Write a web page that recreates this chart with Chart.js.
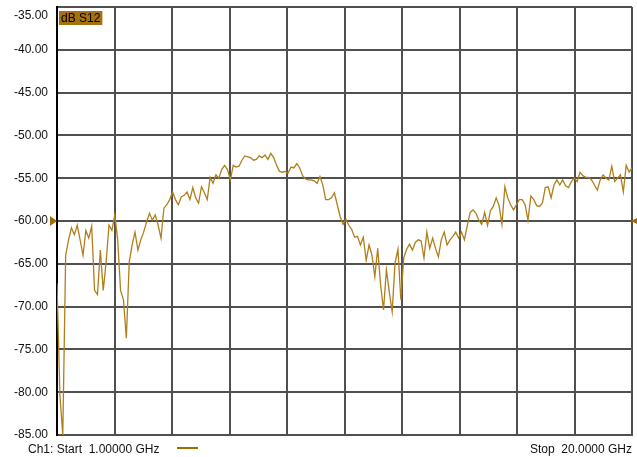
<!DOCTYPE html>
<html>
<head>
<meta charset="utf-8">
<script src="https://cdn.jsdelivr.net/npm/chart.js@4.4.1/dist/chart.umd.min.js"></script>
<style>
  html, body { margin: 0; padding: 0; background: #fff; overflow: hidden; }
  canvas { display: block; }
</style>
</head>
<body>
<canvas id="c" width="637" height="457"></canvas>
<script>
// Sweep settings
const startGHz = 1.0;
const stopGHz = 20.0;

// Measured transmission, dB S12, one value per sweep point
const s12dB = [
  -67.3, -80.3, -85.0, -64.0, -62.2, -60.8, -61.6, -60.5, -62.2, -64.0,
  -61.1, -62.0, -60.6, -68.1, -68.6, -63.4, -68.1, -64.8, -60.5, -61.1,
  -59.3, -62.2, -68.1, -69.2, -73.7, -64.8, -62.8, -61.3, -63.4, -62.2,
  -61.3, -60.1, -59.1, -59.9, -59.3, -60.5, -62.0, -58.5, -58.1, -57.5,
  -56.6, -57.5, -58.1,
  -57.2, -57.0, -56.6, -57.5, -56.1, -57.3, -57.9, -56.0, -56.7, -57.5,
  -54.9, -55.6, -54.6, -55.0, -54.0, -53.5, -54.0, -55.2, -53.5, -53.7,
  -53.6, -52.9, -52.4, -52.5, -52.6, -52.9, -52.8, -52.4, -52.6, -52.3,
  -52.8, -52.1, -52.6, -53.5, -54.2, -54.3, -54.2, -54.4, -53.7,
  -53.8, -53.3, -53.8, -54.7, -55.1, -55.2, -55.2, -55.3, -55.6, -54.8,
  -55.8, -57.5, -57.5, -57.3, -56.7, -58.1, -59.5, -60.4, -59.8, -60.5,
  -61.0, -61.9, -61.8, -62.8, -61.9, -64.6, -62.8, -64.0, -66.5, -63.2,
  -67.5, -70.4, -65.7, -68.3, -70.6, -64.9, -63.3, -69.2, -64.3, -63.3,
  -62.7,
  -63.4, -62.5, -62.2, -62.3, -64.3, -61.3, -63.2, -62.0, -63.2, -64.2,
  -62.2, -61.3, -62.8, -62.2, -61.8, -61.3, -62.0, -61.3, -62.2, -60.5,
  -59.0, -58.7, -59.1, -59.9, -60.4, -59.0, -60.5, -58.8, -58.3, -57.3,
  -58.2, -60.4, -56.0, -57.3, -58.1, -58.7, -58.1, -57.5, -57.5,
  -58.1, -59.9, -57.1, -57.5, -58.2, -58.3, -57.9, -56.1, -56.0, -57.3,
  -55.8, -55.2, -55.8, -55.2, -55.9, -56.1, -55.4, -55.0, -55.4, -54.3,
  -54.7, -54.9, -54.9, -55.2, -55.8, -56.4, -55.2, -54.6, -55.0, -55.2,
  -53.6, -55.4, -55.0, -54.6, -56.6, -53.5, -54.3, -53.8
];

// Vertical scale: 5 dB per division
const yTickValues = [-35, -40, -45, -50, -55, -60, -65, -70, -75, -80, -85];
const xDivisions = 10;
const refLevel = -60;

// Annotation texts
const traceLabel = 'dB S12';
const startLabel = 'Ch1: Start  1.00000 GHz';
const stopLabel = 'Stop  20.0000 GHz';

const FONT = '12px "Liberation Sans", Arial, sans-serif';
const TRACE = '#b07f1c';
const MARK = '#a06c00';
const GRID = '#505050';

const yMax = Math.max(...yTickValues);
const yMin = Math.min(...yTickValues);
const fmt = v => v.toFixed(2);

const step = (stopGHz - startGHz) / (s12dB.length - 1);
const points = s12dB.map((v, i) => ({ x: startGHz + i * step, y: v }));

const overlay = {
  id: 'overlay',
  afterDraw(chart) {
    const { ctx, chartArea: a, scales: { y } } = chart;
    ctx.save();
    ctx.font = FONT;
    ctx.textBaseline = 'middle';

    // top scale value, drawn just inside the window
    ctx.fillStyle = '#111';
    ctx.textAlign = 'right';
    ctx.fillText(fmt(yMax), a.left - 9, a.top + 9);

    // trace label box
    ctx.textAlign = 'left';
    const tw = ctx.measureText(traceLabel).width;
    ctx.fillStyle = '#a4710c';
    ctx.fillRect(a.left + 2, a.top + 4, tw + 4, 14);
    ctx.fillStyle = '#000';
    ctx.fillText(traceLabel, a.left + 4, a.top + 11.5);

    // reference level markers
    const ry = y.getPixelForValue(refLevel);
    ctx.fillStyle = MARK;
    ctx.beginPath();
    ctx.moveTo(a.left - 7, ry - 5);
    ctx.lineTo(a.left, ry);
    ctx.lineTo(a.left - 7, ry + 5);
    ctx.closePath();
    ctx.fill();
    ctx.beginPath();
    ctx.moveTo(a.right + 5, ry - 3);
    ctx.lineTo(a.right - 1, ry);
    ctx.lineTo(a.right + 5, ry + 3);
    ctx.closePath();
    ctx.fill();

    // channel footer
    const fy = a.bottom + 15;
    ctx.fillStyle = '#111';
    ctx.textAlign = 'left';
    ctx.fillText(startLabel, 28, fy);
    ctx.textAlign = 'right';
    ctx.fillText(stopLabel, a.right, fy);
    ctx.strokeStyle = MARK;
    ctx.lineWidth = 2;
    ctx.beginPath();
    ctx.moveTo(177, fy - 2);
    ctx.lineTo(198, fy - 2);
    ctx.stroke();
    ctx.restore();
  }
};

new Chart(document.getElementById('c'), {
  type: 'line',
  data: {
    datasets: [{
      label: traceLabel,
      data: points,
      borderColor: TRACE,
      borderWidth: 1.3,
      pointRadius: 0,
      tension: 0,
      fill: false
    }]
  },
  options: {
    responsive: false,
    animation: false,
    devicePixelRatio: 1,
    layout: { padding: { top: 7, right: 5, left: 0, bottom: 0 } },
    plugins: { legend: { display: false }, tooltip: { enabled: false } },
    scales: {
      x: {
        type: 'linear',
        min: startGHz,
        max: stopGHz,
        afterBuildTicks: s => {
          s.ticks = Array.from({ length: xDivisions + 1 }, (_, i) =>
            ({ value: startGHz + i * (stopGHz - startGHz) / xDivisions }));
        },
        afterFit: s => { s.height = 22; s.paddingLeft = 0; s.paddingRight = 0; },
        ticks: { display: false },
        grid: { color: GRID, lineWidth: 2, drawTicks: false },
        border: { color: GRID, width: 2 }
      },
      y: {
        min: yMin,
        max: yMax,
        afterBuildTicks: s => { s.ticks = yTickValues.map(v => ({ value: v })); },
        afterFit: s => { s.width = 57; s.paddingTop = 0; s.paddingBottom = 0; },
        ticks: {
          padding: 9,
          color: '#111',
          font: { family: '"Liberation Sans", Arial, sans-serif', size: 12 },
          callback: v => (v === yMax ? '' : fmt(v))
        },
        grid: { color: GRID, lineWidth: 2, drawTicks: false },
        border: { color: '#000', width: 2 }
      }
    }
  },
  plugins: [overlay]
});
</script>
</body>
</html>
